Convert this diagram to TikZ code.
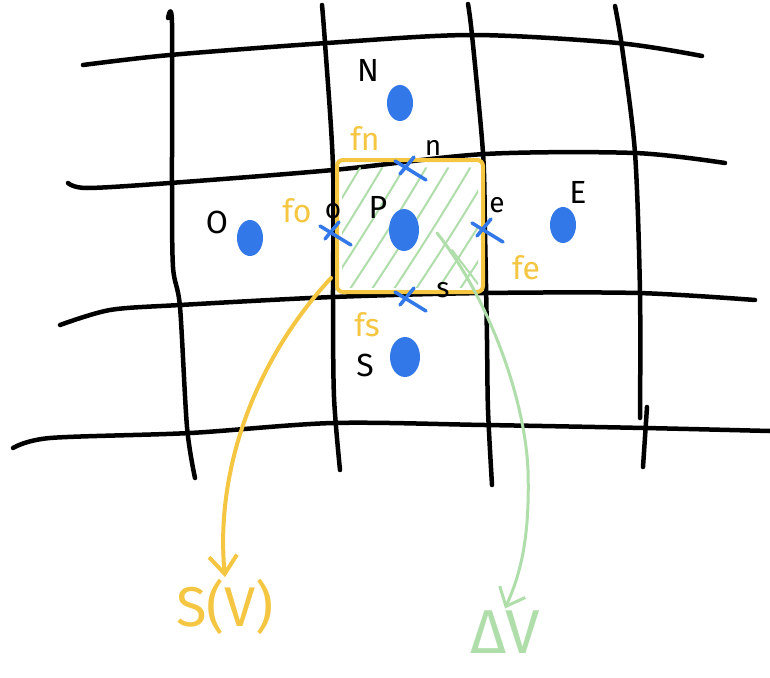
\documentclass[tikz,border=0pt]{standalone}
\usepackage{fontspec}
\setmainfont{Fira Sans}
\usetikzlibrary{arrows.meta, shapes.geometric, calc}

\definecolor{dotblue}{RGB}{50,120,232}
\definecolor{penyellow}{RGB}{244,198,66}
\definecolor{pengreen}{RGB}{176,222,170}

\tikzset{
    facex/.pic={
        \draw[facemark] (-15,-9) -- (16,10);
        \draw[facemark] (-10,4) -- (4,-13);
    },
}

\begin{document}
\begin{tikzpicture}[
    x=1pt, y=-1pt,
    gridline/.style={line width=4.5pt, line cap=round, line join=round},
    celldot/.style={ellipse, fill=dotblue, inner sep=0pt, minimum width=26pt, minimum height=36pt},
    cellname/.style={font=\fontsize{32}{32}\selectfont, inner sep=0pt},
    facename/.style={font=\fontsize{28}{28}\selectfont, inner sep=0pt},
    fluxname/.style={font=\fontsize{32}{32}\selectfont, text=penyellow, inner sep=0pt},
    facemark/.style={draw=dotblue, line width=3.5pt, line cap=round},
    cellbox/.style={draw=penyellow, line width=4pt, rounded corners=6pt,
                    minimum width=146pt, minimum height=132pt},
    hatch/.style={pengreen, line width=2pt, line cap=round},
    yarrow/.style={penyellow, line width=4pt, line cap=round,
                   -{Straight Barb[length=18pt, width=28pt]}},
    garrow/.style={pengreen, line width=3pt, line cap=round,
                   -{Straight Barb[length=16pt, width=28pt]}},
]
    \fill[white] (0,0) rectangle (770,677);
    \useasboundingbox (0,0) rectangle (770,677);

    % mesh lines
    \draw[gridline] plot[smooth] coordinates {(83,65) (170,55) (327,43) (472,35) (618,43) (702,56)};
    \draw[gridline] plot[smooth] coordinates {(68,183) (87,188) (170,183) (333,170) (485,154) (635,153) (725,163)};
    \draw[gridline] plot[smooth] coordinates {(60,325) (110,310) (180,305) (333,297) (485,293) (638,293) (755,300)};
    \draw[gridline] plot[smooth] coordinates {(13,448) (50,438) (190,433) (333,423) (485,425) (645,428) (770,431)};
    \draw[gridline] plot[smooth] coordinates {(168,18) (172,23) (172,183) (173,267) (180,307) (187,427) (195,478)};
    \draw[gridline] plot[smooth] coordinates {(322,5) (325,43) (333,167) (333,300) (334,397) (340,470)};
    \draw[gridline] plot[smooth] coordinates {(468,4) (472,35) (483,153) (485,233) (487,340) (488,410) (492,485)};
    \draw[gridline] plot[smooth] coordinates {(615,6) (622,47) (635,153) (640,293) (640,418)};
    \draw[gridline] (647,407) -- (643,467);

    % hatched control volume
    \begin{scope}
        \clip (342,167) rectangle (478,287);
        \foreach \p in {280,302,...,500}
            \draw[hatch] (\p,295) .. controls (\p+30,250) and (\p+55,210) .. (\p+80,168);
        \draw[hatch] (452,250) -- (478,284);
    \end{scope}
    \node[cellbox] (cellP) at (410,226) {};

    % face points
    \pic at (410,170) {facex};
    \pic at (335,235) {facex};
    \pic at (487,232) {facex};
    \pic at (410,301) {facex};

    % cell centres
    \node[celldot] (dotN) at (400,103) {};
    \node[celldot, minimum width=30pt, minimum height=42pt] (dotP) at (404,230) {};
    \node[celldot] (dotO) at (250,238) {};
    \node[celldot] (dotE) at (563,225) {};
    \node[celldot, minimum width=30pt, minimum height=40pt] (dotS) at (405,357) {};

    % names
    \node[cellname] (nameN) at (368,70) {N};
    \node[cellname] (nameO) at (217,222) {O};
    \node[cellname] (nameE) at (578,192) {E};
    \node[cellname] (nameS) at (365,365) {S};
    \node[cellname] (nameP) at (378,207) {P};
    \node[facename] (namen) at (433,148) {n};
    \node[facename] (namee) at (497,205) {e};
    \node[facename] (names) at (443,290) {s};
    \node[facename] (nameo) at (333,211) {o};

    % fluxes
    \node[fluxname] (fluxn) at (365,138) {fn};
    \node[fluxname] (fluxo) at (297,211) {fo};
    \node[fluxname] (fluxe) at (526,268) {fe};
    \node[fluxname] (fluxs) at (367,325) {fs};

    % surface and volume
    \node[text=penyellow, font=\fontsize{56}{56}\selectfont, inner sep=2pt] (sv) at (225,607) {S(V)};
    \node[text=pengreen, font=\fontsize{62}{62}\selectfont, inner sep=2pt] (dv) at (505,632) {ΔV};

    \coordinate (svFrom) at (331,278);
    \coordinate (dvFrom) at (437,233);
    \draw[yarrow] (svFrom) .. controls (255,360) and (215,470) .. (sv.north);
    \draw[garrow] (dvFrom) .. controls (490,300) and (525,400) .. (528,470)
        .. controls (530,540) and (520,575) .. (dv.north);
\end{tikzpicture}
\end{document}
